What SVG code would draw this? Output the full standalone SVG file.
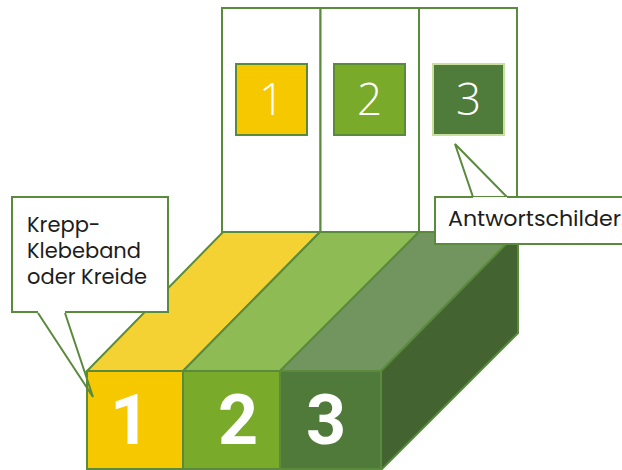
<svg xmlns="http://www.w3.org/2000/svg" width="622" height="470" viewBox="0 0 622 470">
<style>
.ln{stroke:#5a8a3b;stroke-width:2;stroke-linejoin:miter}
.lbl{font-family:"Poppins","Open Sans","Noto Sans",sans-serif;font-size:21px;fill:#1d1d1d}
.big{font-family:"Roboto","Liberation Sans",sans-serif;font-weight:700;font-size:70px;fill:#ffffff;text-anchor:middle}
.sm{font-family:"Open Sans","Noto Sans",sans-serif;font-weight:300;font-size:44px;fill:#ffffff;text-anchor:middle}
</style>
<rect width="622" height="470" fill="#ffffff"/>
<g id="panels">
<rect class="ln" x="222" y="8" width="98.5" height="224" fill="#ffffff"/>
<rect class="ln" x="320.5" y="8" width="98.5" height="224" fill="#ffffff"/>
<rect class="ln" x="419" y="8" width="98" height="224" fill="#ffffff"/>
</g>
<g id="sign1">
<rect class="ln" x="236" y="64" width="71" height="71" fill="#f5c800"/>
<text class="sm" x="271.5" y="115">1</text>
</g>
<g id="sign2">
<rect class="ln" x="334" y="64" width="71" height="71" fill="#79aa2a"/>
<text class="sm" x="369.5" y="115">2</text>
</g>
<g id="sign3">
<rect x="433" y="64" width="71" height="71" fill="#4f7c3a" stroke="#c9e09c" stroke-width="2"/>
<text class="sm" x="468.5" y="115">3</text>
</g>
<g id="callout1-fill">
<polygon points="38,313 93,397 65,313" fill="#ffffff"/>
</g>
<g id="box">
<polygon class="ln" points="87,371 183,371 320,232 223,232" fill="#f5d234"/>
<polygon class="ln" points="183,371 280,371 419,232 320,232" fill="#8fbb55"/>
<polygon class="ln" points="280,371 381,371 518,232 419,232" fill="#72955f"/>
<polygon class="ln" points="381,371 518,232 518,333 381,470" fill="#436430"/>
<rect class="ln" x="87" y="371" width="96" height="98" fill="#f5c800"/>
<rect class="ln" x="183" y="371" width="97" height="98" fill="#79aa2a"/>
<rect class="ln" x="280" y="371" width="101" height="98" fill="#4f7a3a"/>
<text class="big" x="130" y="444">1</text>
<text class="big" x="238" y="444">2</text>
<text class="big" x="326" y="444">3</text>
</g>
<g id="connectors">
<polyline class="ln" points="38,313 93,397 65,313" fill="none"/>
<polygon class="ln" points="455,144 473,197 507,197" fill="#ffffff"/>
</g>
<g id="callout1">
<path class="ln" d="M38,312 L12,312 L12,197 L168,197 L168,312 L65,312" fill="#ffffff"/>
<rect x="13" y="198" width="154" height="113" fill="#ffffff"/>
<text class="lbl" x="27" y="232">Krepp-</text>
<text class="lbl" x="27" y="258">Klebeband</text>
<text class="lbl" x="27" y="284">oder Kreide</text>
</g>
<g id="callout2">
<path class="ln" d="M473,197 L435,197 L435,244 L630,244 L630,197 L507,197" fill="#ffffff"/>
<rect x="436" y="198" width="190" height="45" fill="#ffffff"/>
<text class="lbl" x="448" y="226" textLength="173" lengthAdjust="spacingAndGlyphs">Antwortschilder</text>
</g>
</svg>
